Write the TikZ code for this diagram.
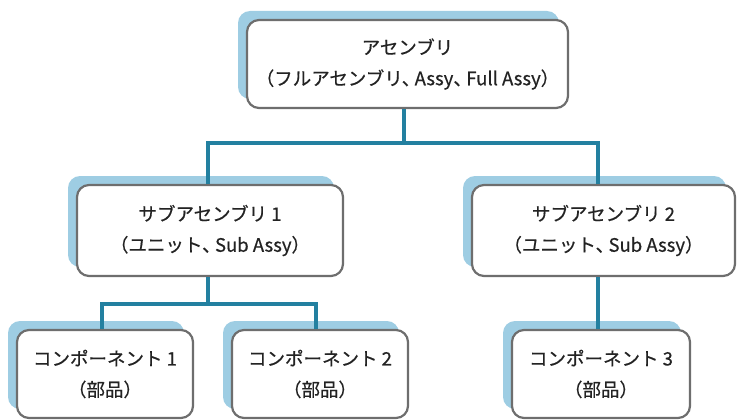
\documentclass[tikz,border=0pt]{standalone}
\usepackage{fontspec}
\setmainfont{Noto Sans CJK JP}[FakeBold=0.5]
\newcommand{\tc}{、\hspace{-0.3em}}
\begin{document}
\begin{tikzpicture}[x=1pt,y=-1pt,
  shadowbox/.style={fill=shadowblue, rounded corners=12pt, draw=none, inner sep=0pt},
  mainbox/.style={fill=white, draw=bordergray, line width=2.2pt, rounded corners=12pt, inner sep=0pt,
     align=center, text=textgray, font=\fontsize{18.5}{31}\selectfont},
  link/.style={draw=linkteal, line width=3.5pt}]
\definecolor{shadowblue}{RGB}{158,205,227}
\definecolor{bordergray}{RGB}{110,110,110}
\definecolor{textgray}{RGB}{35,35,35}
\definecolor{linkteal}{RGB}{35,128,160}
\useasboundingbox (0,0) rectangle (737,420);
% shadows
\node[shadowbox, minimum width=321pt, minimum height=88pt] (sa) at (398.5,55) {};
\node[shadowbox, minimum width=266pt, minimum height=91pt] (sb) at (201,221.5) {};
\node[shadowbox, minimum width=263pt, minimum height=91pt] (sc) at (594.5,221.5) {};
\node[shadowbox, minimum width=176pt, minimum height=88pt] (sd) at (96,365) {};
\node[shadowbox, minimum width=176pt, minimum height=88pt] (se) at (311,365) {};
\node[shadowbox, minimum width=178pt, minimum height=88pt] (sf) at (592,365) {};
% boxes
\node[mainbox, minimum width=321pt, minimum height=88pt] (a) at (407.5,64) {アセンブリ\\（フルアセンブリ\tc Assy\tc Full Assy）};
\node[mainbox, minimum width=266pt, minimum height=91pt] (b) at (210,230.5) {サブアセンブリ 1\\（ユニット\tc Sub Assy）};
\node[mainbox, minimum width=263pt, minimum height=91pt] (c) at (603.5,230.5) {サブアセンブリ 2\\（ユニット\tc Sub Assy）};
\node[mainbox, minimum width=176pt, minimum height=88pt] (d) at (105,374) {コンポーネント 1\\（部品）};
\node[mainbox, minimum width=176pt, minimum height=88pt] (e) at (320,374) {コンポーネント 2\\（部品）};
\node[mainbox, minimum width=178pt, minimum height=88pt] (f) at (601,374) {コンポーネント 3\\（部品）};
% connectors
\coordinate (ja) at (404,143);
\coordinate (jb) at (208,304);
\draw[link] (a.south -| ja) -- (ja);
\draw[link] (b.north -| 208,0) |- (ja) -| (c.north -| 598,0);
\draw[link] (b.south -| jb) -- (jb);
\draw[link] (d.north -| 102,0) |- (jb) -| (e.north -| 316,0);
\draw[link] (c.south -| 598,0) -- (f.north -| 598,0);
\end{tikzpicture}
\end{document}
